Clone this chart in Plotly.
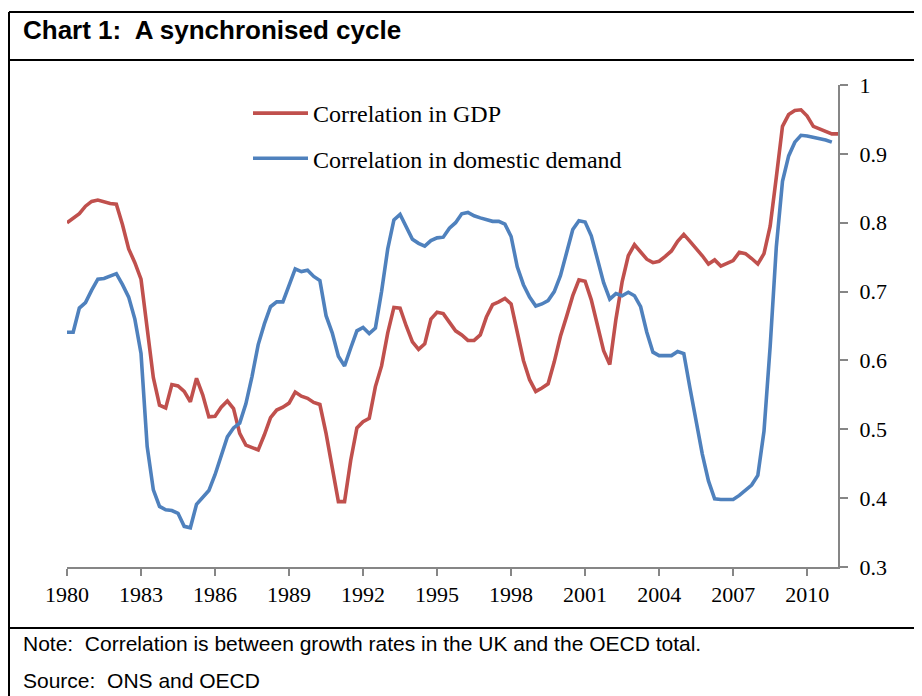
import plotly.graph_objects as go

START_YEAR = 1980
TICK_YEARS = [1980, 1983, 1986, 1989, 1992, 1995, 1998, 2001, 2004, 2007, 2010]
TICK_LABELS = [str(y) for y in TICK_YEARS]
Y_TICKS = [0.3, 0.4, 0.5, 0.6, 0.7, 0.8, 0.9, 1.0]
Y_TICK_LABELS = ["0.3", "0.4", "0.5", "0.6", "0.7", "0.8", "0.9", "1"]

SERIES_NAMES = ["Correlation in GDP", "Correlation in domestic demand"]

# Quarterly values from 1980 Q1
gdp_corr = [
    0.800, 0.806, 0.813, 0.824, 0.831, 0.833, 0.830, 0.828, 0.827, 0.797,
    0.762, 0.742, 0.718, 0.650, 0.575, 0.535, 0.531, 0.565, 0.563, 0.555,
    0.540, 0.574, 0.550, 0.518, 0.519, 0.532, 0.541, 0.530, 0.494, 0.477,
    0.474, 0.470, 0.492, 0.517, 0.528, 0.532, 0.538, 0.554, 0.548, 0.545,
    0.539, 0.536, 0.494, 0.445, 0.395, 0.395, 0.455, 0.502, 0.511, 0.516,
    0.562, 0.592, 0.640, 0.677, 0.676, 0.650, 0.627, 0.616, 0.624, 0.660,
    0.670, 0.668, 0.655, 0.643, 0.637, 0.629, 0.629, 0.637, 0.663, 0.681,
    0.685, 0.690, 0.682, 0.640, 0.600, 0.572, 0.555, 0.560, 0.566, 0.598,
    0.635, 0.664, 0.694, 0.717, 0.715, 0.688, 0.650, 0.614, 0.594, 0.660,
    0.714, 0.752, 0.768, 0.757, 0.747, 0.742, 0.744, 0.751, 0.759, 0.773,
    0.783, 0.773, 0.763, 0.752, 0.740, 0.746, 0.737, 0.741, 0.745, 0.757,
    0.755, 0.748, 0.740, 0.755, 0.795, 0.866, 0.940, 0.957, 0.963, 0.964,
    0.955, 0.940, 0.936, 0.932, 0.929, 0.929,
]

demand_corr = [
    0.641, 0.641, 0.676, 0.684, 0.702, 0.718, 0.719, 0.722, 0.726, 0.710,
    0.692, 0.660, 0.610, 0.475, 0.412, 0.388, 0.383, 0.382, 0.378, 0.359,
    0.357, 0.391, 0.402, 0.411, 0.434, 0.463, 0.489, 0.502, 0.509, 0.537,
    0.577, 0.623, 0.653, 0.678, 0.685, 0.685, 0.708, 0.733, 0.729, 0.731,
    0.722, 0.716, 0.665, 0.640, 0.606, 0.592, 0.618, 0.643, 0.648, 0.639,
    0.647, 0.700, 0.762, 0.804, 0.812, 0.795, 0.776, 0.770, 0.766, 0.774,
    0.778, 0.779, 0.792, 0.800, 0.813, 0.815, 0.810, 0.807, 0.805, 0.802,
    0.802, 0.798, 0.780, 0.736, 0.710, 0.692, 0.679, 0.682, 0.687, 0.700,
    0.723, 0.757, 0.790, 0.803, 0.801, 0.781, 0.745, 0.713, 0.689, 0.697,
    0.694, 0.699, 0.694, 0.678, 0.641, 0.612, 0.607, 0.607, 0.607, 0.613,
    0.610, 0.560, 0.511, 0.464, 0.425, 0.399, 0.398, 0.398, 0.398, 0.404,
    0.412, 0.419, 0.433, 0.497, 0.620, 0.765, 0.860, 0.897, 0.917, 0.927,
    0.926, 0.924, 0.923, 0.920, 0.917,
]


def quarters(n):
    return [START_YEAR + q / 4 for q in range(n)]


RED = "#C0504D"
BLUE = "#4F81BD"
AXIS = "#868686"
SERIF = "Liberation Serif, Times New Roman, serif"
SANS = "Liberation Sans, Arial, sans-serif"

# page body has an 8px margin; layout numbers below are given in window pixels
OFF = 8
W, H = 922 - OFF, 696 - OFF
PLOT_LEFT, PLOT_RIGHT, PLOT_TOP, PLOT_BOTTOM = 67, 838, 85, 567
L = PLOT_LEFT - OFF
T = PLOT_TOP - OFF
R = W - (PLOT_RIGHT - OFF)
B = H - (PLOT_BOTTOM - OFF)
pw, ph = W - L - R, H - T - B


def px_x(p):
    return (p - OFF - L) / pw


def px_y(p):
    return (H - B - (p - OFF)) / ph


fig = go.Figure()
fig.add_trace(go.Scatter(
    x=quarters(len(gdp_corr)), y=gdp_corr, mode="lines", name=SERIES_NAMES[0],
    legendgroup="a", line=dict(color=RED, width=3.6)))
fig.add_trace(go.Scatter(
    x=quarters(len(demand_corr)), y=demand_corr, mode="lines", name=SERIES_NAMES[1],
    legendgroup="b", line=dict(color=BLUE, width=3.6)))

fig.update_layout(
    width=W, height=H,
    margin=dict(l=L, r=R, t=T, b=B, pad=0),
    paper_bgcolor="white", plot_bgcolor="white",
    showlegend=True,
    legend=dict(
        x=px_x(248), y=px_y(91), xanchor="left", yanchor="top",
        font=dict(family=SERIF, size=24, color="black"),
        bgcolor="rgba(0,0,0,0)", itemwidth=55, tracegroupgap=11,
    ),
    xaxis=dict(
        range=[START_YEAR, START_YEAR + 31.25],
        tickvals=TICK_YEARS, ticktext=TICK_LABELS,
        showgrid=False, zeroline=False,
        showline=True, linecolor=AXIS, linewidth=2,
        ticks="outside", ticklen=7, tickwidth=2, tickcolor=AXIS,
        tickfont=dict(family=SERIF, size=22, color="black"),
    ),
    yaxis=dict(
        range=[0.3, 1.0], side="right",
        tickvals=Y_TICKS, ticktext=Y_TICK_LABELS,
        showgrid=False, zeroline=False,
        showline=True, linecolor=AXIS, linewidth=2,
        ticks="outside", ticklen=8, tickwidth=2, tickcolor=AXIS,
        tickfont=dict(family=SERIF, size=22, color="black"),
        ticklabelstandoff=7,
    ),
)

# frame lines of the chart box
box = dict(xref="paper", yref="paper", line=dict(color="black", width=2))
fig.add_shape(type="line", x0=px_x(9), x1=px_x(940), y0=px_y(12), y1=px_y(12), **box)
fig.add_shape(type="line", x0=px_x(9), x1=px_x(940), y0=px_y(60), y1=px_y(60), **box)
fig.add_shape(type="line", x0=px_x(9), x1=px_x(940), y0=px_y(628), y1=px_y(628), **box)
fig.add_shape(type="line", x0=px_x(9), x1=px_x(9), y0=px_y(12), y1=px_y(710), **box)

fig.add_annotation(
    text="<b>Chart 1:\u00a0 A synchronised cycle</b>", xref="paper", yref="paper",
    x=px_x(21), y=px_y(30), xanchor="left", yanchor="middle", showarrow=False,
    font=dict(family=SANS, size=26, color="black"))
fig.add_annotation(
    text="Note:\u00a0 Correlation is between growth rates in the UK and the OECD total.",
    xref="paper", yref="paper", x=px_x(21), y=px_y(643), xanchor="left",
    yanchor="middle", showarrow=False, font=dict(family=SANS, size=21, color="black"))
fig.add_annotation(
    text="Source:\u00a0 ONS and OECD",
    xref="paper", yref="paper", x=px_x(21), y=px_y(680), xanchor="left",
    yanchor="middle", showarrow=False, font=dict(family=SANS, size=21, color="black"))

fig.write_html("out.html")
